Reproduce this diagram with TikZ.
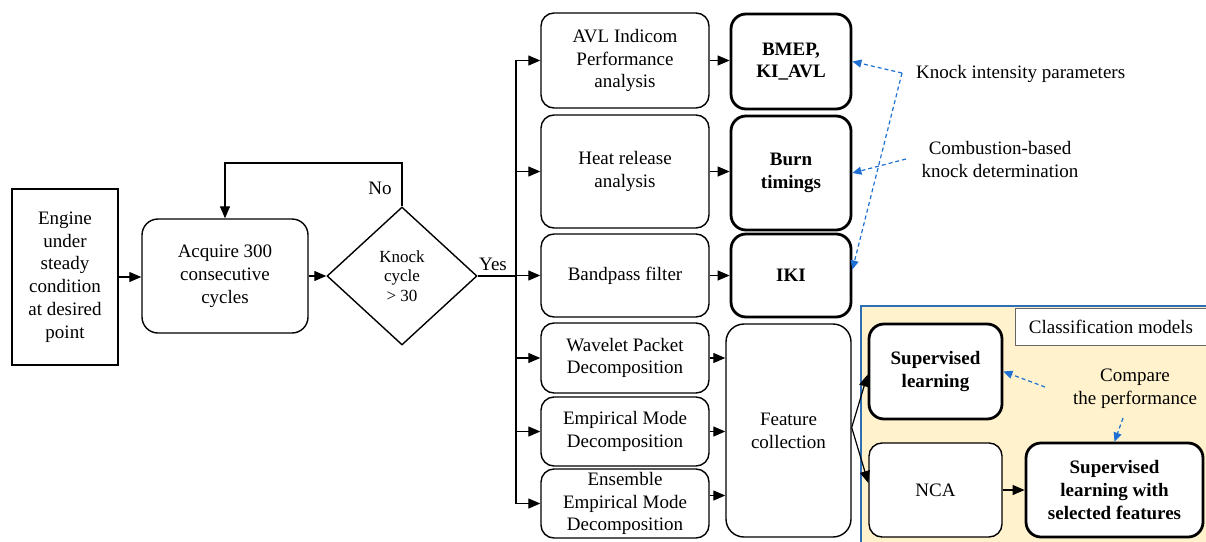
\documentclass[tikz,border=0pt]{standalone}
\usepackage{fontspec}
\setmainfont{Liberation Serif}
\newfontfamily\timesfont{Liberation Serif}
\usetikzlibrary{arrows.meta,shapes.geometric}
\definecolor{dashblue}{RGB}{30,112,210}
\definecolor{panelblue}{RGB}{46,110,180}
\definecolor{panelfill}{RGB}{255,242,204}
\tikzset{
  txt/.style={font=\timesfont\fontsize{19}{22.8}\selectfont, align=center, inner sep=0pt},
  plainbox/.style={txt, draw, fill=white, line width=1.4pt},
  stepbox/.style={txt, draw, fill=white, line width=1.4pt, rounded corners=13pt},
  resultbox/.style={txt, draw, fill=white, line width=2.8pt, rounded corners=15pt, font=\timesfont\fontsize{19}{22.8}\selectfont\bfseries},
  arr/.style={line width=1.2pt, -{Triangle[length=12pt,width=10pt]}},
  bluearr/.style={draw=dashblue, line width=1.2pt, dash pattern=on 4pt off 3pt, -{Triangle[length=9pt,width=8pt]}},
}
\begin{document}
\begin{tikzpicture}[x=1pt,y=-1pt]
\useasboundingbox (0,0) rectangle (1206,541);

% classification panel (runs off the right and bottom edges)
\path[clip] (0,0) rectangle (1206,541);
\draw[panelblue, fill=panelfill, line width=1.6pt] (861,306) rectangle (1230,560);
\node[txt, draw=black!60, line width=0.8pt, fill=white, minimum width=192pt, minimum height=37pt] (cm) at (1111,326.5) {Classification models};

% left part of the flow
\node[plainbox, line width=1.8pt, minimum width=106pt, minimum height=176pt] (eng) at (65,277) {Engine\\under\\steady\\condition\\at desired\\point};
\node[stepbox, rounded corners=16pt, minimum width=166pt, minimum height=114pt] (acq) at (225,276) {Acquire 300\\consecutive\\cycles};
\node[draw, shape=diamond, line width=1.4pt, minimum width=150pt, minimum height=138pt, inner sep=0pt,
      font=\timesfont\fontsize{17}{19.5}\selectfont, align=center] (dia) at (402,276) {Knock\\cycle\\> 30};

% processing column
\node[stepbox, minimum width=168pt, minimum height=95pt] (avl) at (625,60.5) {AVL Indicom\\Performance\\analysis};
\node[stepbox, minimum width=168pt, minimum height=113pt] (heat) at (625,171.5) {Heat release\\analysis};
\node[stepbox, minimum width=168pt, minimum height=83pt] (band) at (625,275.5) {Bandpass filter};
\node[stepbox, minimum width=168pt, minimum height=70pt] (wpd) at (625,358) {Wavelet Packet\\Decomposition};
\node[stepbox, minimum width=168pt, minimum height=69pt] (emd) at (625,431.5) {Empirical Mode\\Decomposition};
\node[stepbox, minimum width=168pt, minimum height=69pt] (eemd) at (625,503.5) {Ensemble\\Empirical Mode\\Decomposition};

% results column
\node[resultbox, minimum width=120pt, minimum height=95pt] (bmep) at (791,61.5) {BMEP,\\KI\_AVL};
\node[resultbox, minimum width=120pt, minimum height=114pt] (burn) at (791,173) {Burn\\timings};
\node[resultbox, minimum width=120pt, minimum height=83pt] (iki) at (791,275.5) {IKI};
\node[stepbox, rounded corners=18pt, minimum width=125pt, minimum height=213pt] (feat) at (788.5,430.5) {Feature\\collection};

% classification models
\node[resultbox, minimum width=133pt, minimum height=95pt] (sup) at (935.5,371.5) {Supervised\\learning};
\node[stepbox, minimum width=133pt, minimum height=94pt] (nca) at (935.5,490) {NCA};
\node[resultbox, minimum width=177pt, minimum height=94pt] (sel) at (1114.5,490) {Supervised\\learning with\\selected features};

% annotations
\node[txt, anchor=west] (kip) at (916,74) {Knock intensity parameters};
\node[txt] (cbk) at (1000,159.5) {Combustion-based\\knock determination};
\node[txt] (cmp) at (1135,388.5) {Compare\\the performance};
\node[txt] (no) at (380,188) {No};
\node[txt] (yes) at (493,264) {Yes};

% connectors
\coordinate (loop) at (402,163);
\coordinate (bus) at (516,276);
\draw[arr] (eng.east) -- (eng.east -| acq.west);
\draw[arr] (acq.east) -- (dia.west);
\draw[arr] (dia.north) -- (loop) -| (acq.north);
\draw[line width=1.2pt] (dia.east) -- (bus);
\foreach \n in {avl,heat,band,wpd,emd,eemd}
  \draw[arr] (bus) |- (\n.west);
\draw[arr] (avl.east) -- (avl.east -| bmep.west);
\draw[arr] (heat.east) -- (heat.east -| burn.west);
\draw[arr] (band.east) -- (band.east -| iki.west);
\draw[arr] (wpd.east) -- (wpd.east -| feat.west);
\draw[arr] (emd.east) -- (emd.east -| feat.west);
\draw[arr] ([yshift=8pt]eemd.east) -- ([yshift=8pt]eemd.east -| feat.west);
\draw[arr] ([yshift=3pt]feat.east) -- ([yshift=-3pt]sup.west);
\draw[arr] ([yshift=3pt]feat.east) -- ([yshift=7pt]nca.west);
\draw[arr] (nca.east) -- (sel.west);

% dashed pointers
\coordinate (kp) at (902,73);
\coordinate (cb) at (906,159);
\coordinate (c1) at (1045,387);
\coordinate (c2) at (1123,418);
\draw[bluearr] (kp) -- (bmep.east);
\draw[bluearr] (kp) -- ([yshift=6pt]iki.east);
\draw[bluearr] (cb) -- (burn.east);
\draw[bluearr] (c1) -- (sup.east);
\draw[bluearr] (c2) -- (sel.north);
\end{tikzpicture}
\end{document}
